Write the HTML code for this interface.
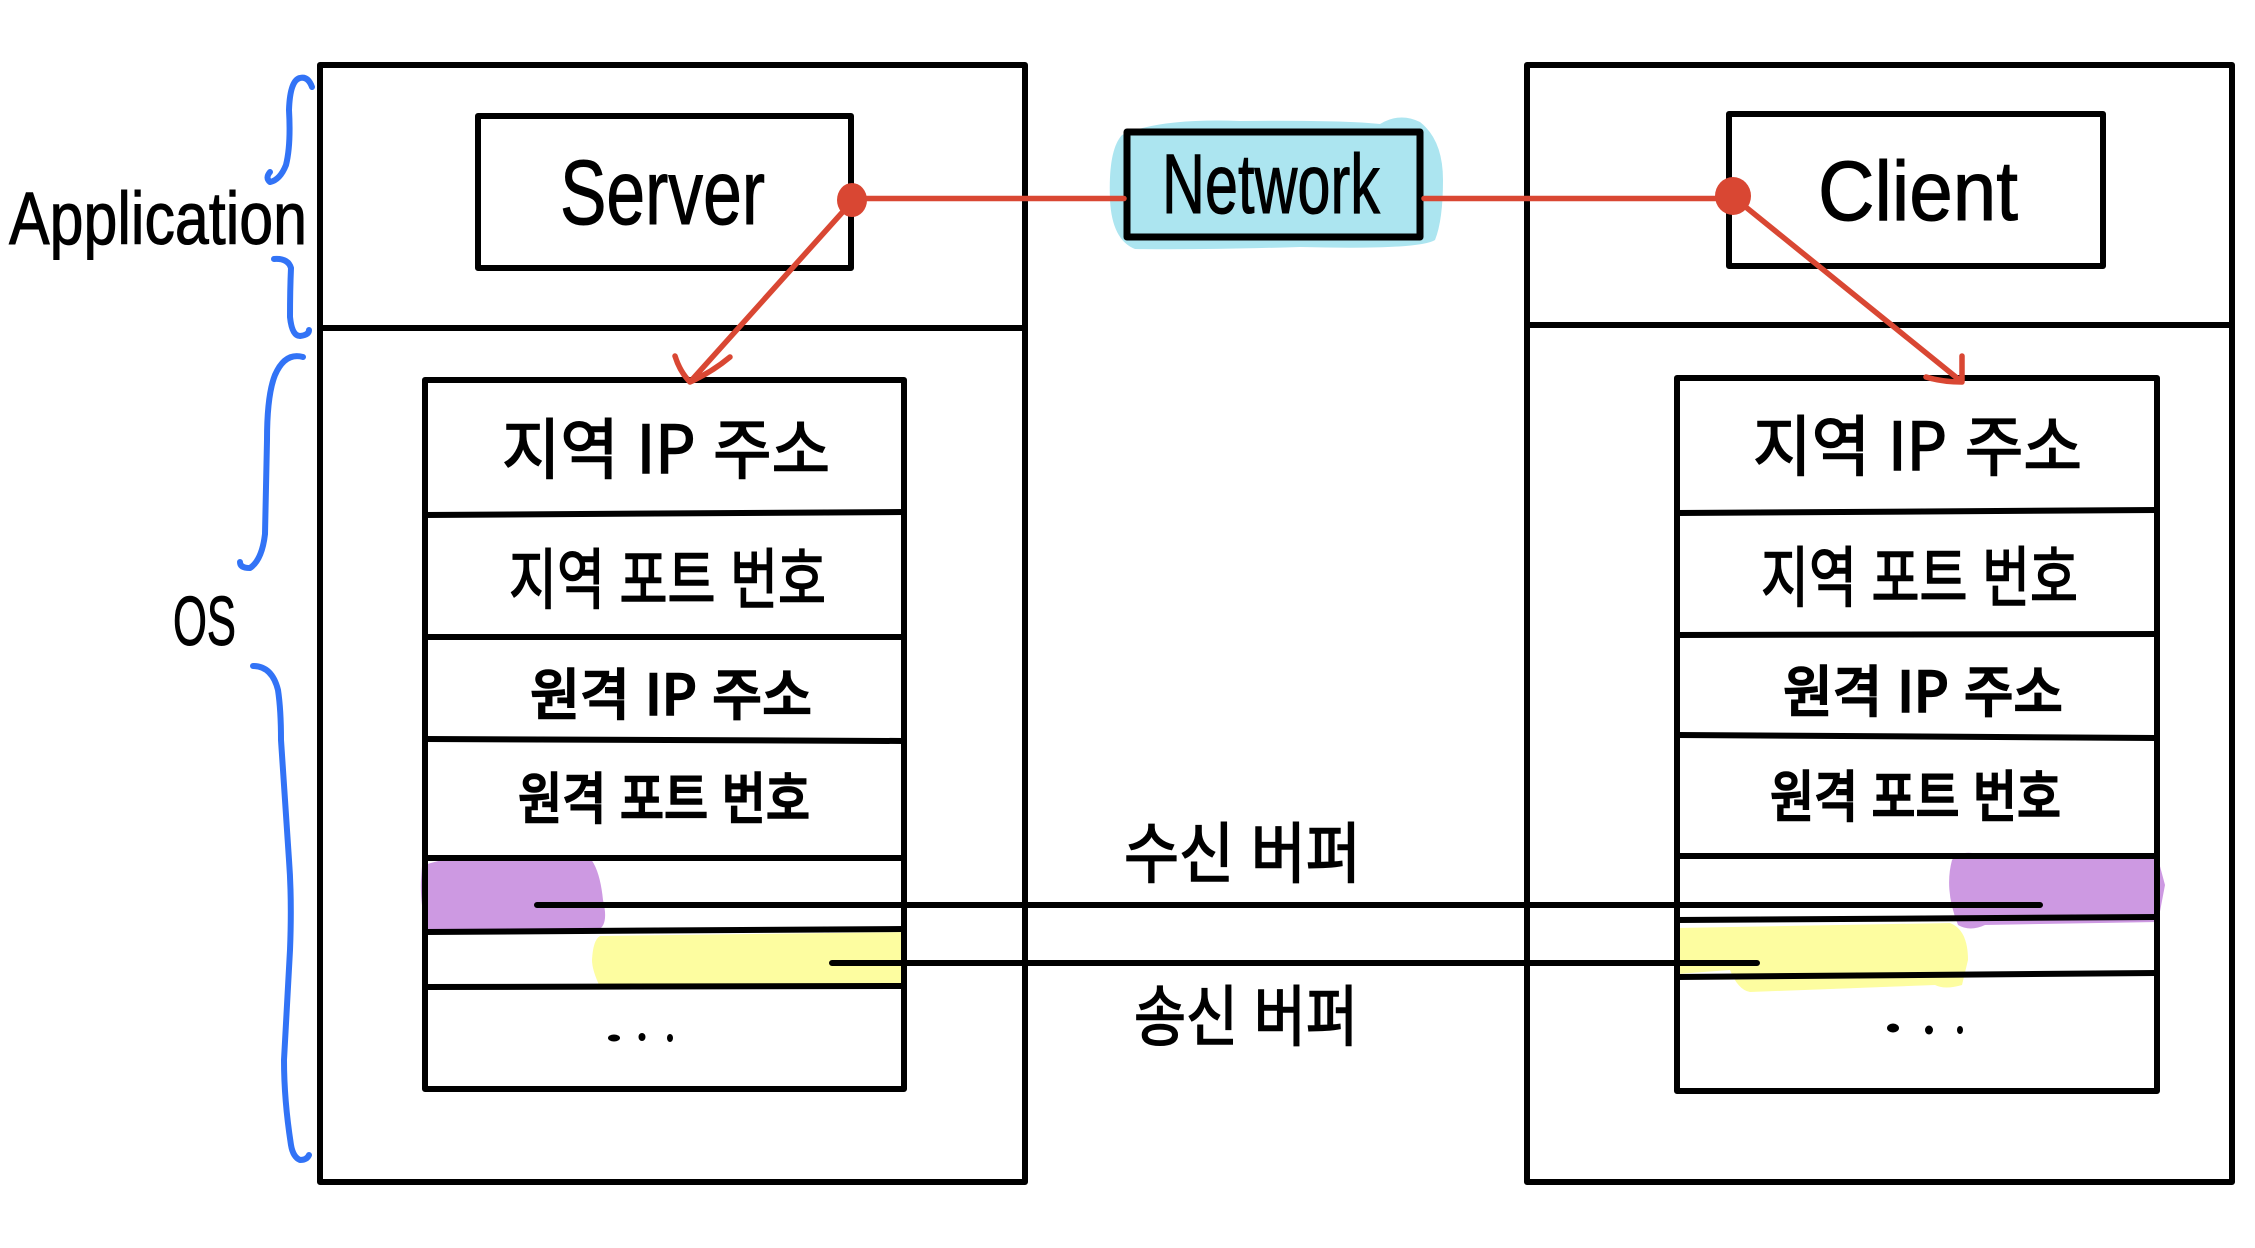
<!DOCTYPE html>
<html lang="ko"><head><meta charset="utf-8"><title>Diagram</title>
<style>html,body{margin:0;padding:0;background:#fff}svg{display:block}
text{font-family:"Liberation Sans","Noto Sans CJK KR",sans-serif;fill:#000;stroke:#000;stroke-width:1}
.k{font-family:"Noto Sans CJK KR","NanumGothic",sans-serif;font-size:66px;stroke-width:1.6}
.k2{font-family:"Noto Sans CJK KR","NanumGothic",sans-serif;font-size:56px;font-weight:500;stroke-width:1.6}
</style></head><body>
<svg width="2255" height="1248" viewBox="0 0 2255 1248" xmlns="http://www.w3.org/2000/svg">
<rect width="2255" height="1248" fill="#fff"/>
<!-- highlights -->
<path d="M1122 135Q1160 118 1240 121Q1340 120 1380 124Q1400 112 1420 122Q1443 140 1443 180Q1443 220 1435 240Q1420 250 1300 247Q1200 250 1135 249Q1112 240 1110 200Q1108 150 1122 135Z" fill="#ace5f0"/>
<path d="M422 866Q450 855 500 855Q560 855 590 858Q600 870 603 900Q609 925 598 930L426 932Q420 900 421 880Z" fill="#cd99e2"/>
<path d="M600 936L905 932L906 985L600 987Q592 970 592 960Q593 940 600 936Z" fill="#fdfda0"/>
<path d="M1952 860Q1962 848 1985 856L2157 855L2165 885L2158 922L1985 925Q1970 932 1958 925Q1944 890 1952 860Z" fill="#cd99e2"/>
<path d="M1677 928L1950 923Q1968 930 1968 960L1962 985Q1945 990 1935 985L1750 992Q1738 990 1730 970L1677 974Z" fill="#fdfda0"/>
<g fill="none" stroke="#000" stroke-width="6" stroke-linecap="round" stroke-linejoin="round">
<!-- server -->
<rect x="320" y="65" width="705" height="1117"/>
<path d="M320 328H1025"/>
<rect x="478" y="116" width="373" height="152"/>
<rect x="425" y="380" width="479" height="709"/>
<path d="M425 515L904 512M425 637H904M425 739L904 741M425 858H904M425 932L904 929M425 987L904 986"/>
<!-- client -->
<rect x="1527" y="65" width="705" height="1117"/>
<path d="M1527 325H2232"/>
<rect x="1729" y="114" width="374" height="152"/>
<rect x="1677" y="378" width="480" height="713"/>
<path d="M1677 513L2157 510M1677 635L2157 634M1677 735L2157 738M1677 856H2157M1677 920L2157 917M1677 977L2157 973"/>
<!-- network -->
<rect x="1127" y="132" width="293" height="105" fill="#ace5f0" stroke-width="7"/>
<!-- connectors -->
<path d="M537 905H2040M832 963H1757"/>
</g>
<!-- red -->
<g fill="none" stroke="#d94733" stroke-width="5.5" stroke-linecap="round" stroke-linejoin="round">
<path d="M856 198.5H1124M1424 198.5H1736"/>
<path d="M848 206L690 382M675 356Q680 372 690 382Q712 372 730 357"/>
<path d="M1742 204L1962 382M1962 356V382Q1942 382 1926 377"/>
</g>
<ellipse cx="852" cy="200" rx="15" ry="17" fill="#d94733"/>
<ellipse cx="1733" cy="196" rx="18" ry="19" fill="#d94733"/>
<!-- blue braces -->
<g fill="none" stroke="#3273f6" stroke-width="6" stroke-linecap="round" stroke-linejoin="round">
<path d="M312 87Q308 76 300 78Q290 80 289 110Q291 145 286 165Q280 180 270 182Q265 178 270 172"/>
<path d="M274 259Q288 258 291 268Q290 290 290 317Q292 336 300 336Q309 335 309 330"/>
<path d="M303 357Q285 352 275 375Q267 395 267 440L265 534Q262 560 250 568Q240 568 240 562"/>
<path d="M253 666Q272 666 278 690Q281 710 281 740L289 860Q292 900 290 950L284 1060Q284 1100 291 1145Q293 1157 300 1160Q307 1160 309 1155"/>
</g>
<!-- Labels -->
<text x="9" y="244" font-size="74" textLength="298" lengthAdjust="spacingAndGlyphs">Application</text>
<text x="173" y="645" font-size="70" textLength="63" lengthAdjust="spacingAndGlyphs">OS</text>
<text x="560" y="224" font-size="92" textLength="205" lengthAdjust="spacingAndGlyphs">Server</text>
<text x="1162" y="213" font-size="84" textLength="218" lengthAdjust="spacingAndGlyphs">Network</text>
<text x="1818" y="220" font-size="84" textLength="200" lengthAdjust="spacingAndGlyphs">Client</text>
<!-- left stack -->
<text class="k" x="502" y="473" textLength="328" lengthAdjust="spacingAndGlyphs">지역 IP 주소</text>
<text class="k" x="509" y="603" textLength="317" lengthAdjust="spacingAndGlyphs">지역 포트 번호</text>
<text class="k2" x="530" y="715" textLength="282" lengthAdjust="spacingAndGlyphs">원격 IP 주소</text>
<text class="k2" x="518" y="819" textLength="292" lengthAdjust="spacingAndGlyphs">원격 포트 번호</text>
<!-- right stack -->
<text class="k" x="1753" y="470" textLength="329" lengthAdjust="spacingAndGlyphs">지역 IP 주소</text>
<text class="k" x="1761" y="601" textLength="317" lengthAdjust="spacingAndGlyphs">지역 포트 번호</text>
<text class="k2" x="1783" y="712" textLength="280" lengthAdjust="spacingAndGlyphs">원격 IP 주소</text>
<text class="k2" x="1770" y="817" textLength="291" lengthAdjust="spacingAndGlyphs">원격 포트 번호</text>
<!-- buffers -->
<text class="k" x="1124" y="877" textLength="237" lengthAdjust="spacingAndGlyphs">수신 버퍼</text>
<text class="k" x="1134" y="1040" textLength="224" lengthAdjust="spacingAndGlyphs">송신 버퍼</text>
<!-- ellipses -->
<g fill="#000">
<ellipse cx="614" cy="1038" rx="6" ry="3.5"/><ellipse cx="642" cy="1037" rx="3.5" ry="4"/><ellipse cx="670" cy="1038" rx="3" ry="4"/>
<ellipse cx="1893" cy="1028" rx="6" ry="4.5"/><ellipse cx="1929" cy="1030" rx="4" ry="4.5"/><ellipse cx="1960" cy="1030" rx="3" ry="4"/>
</g>
</svg>
</body></html>
